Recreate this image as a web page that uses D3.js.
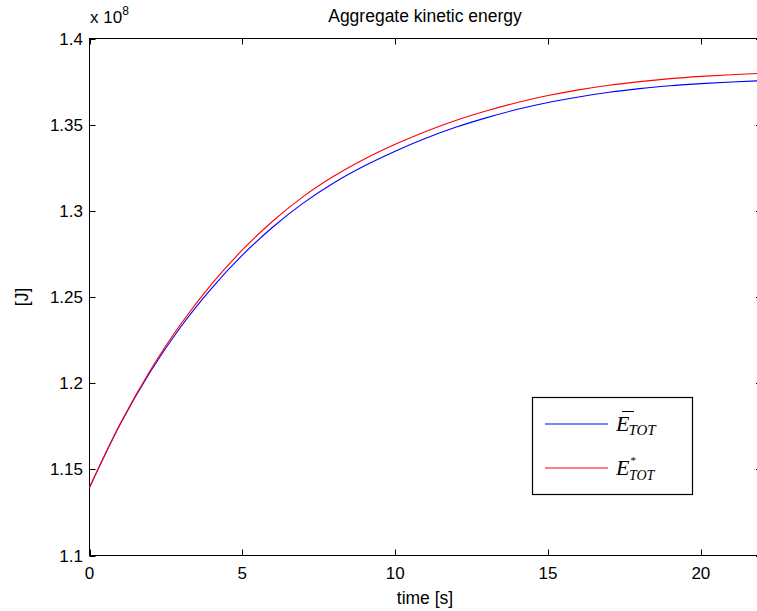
<!DOCTYPE html>
<html>
<head>
<meta charset="utf-8">
<script src="https://cdn.jsdelivr.net/npm/d3@7"></script>
<style>
  body { margin: 0; background: #fff; }
  svg { display: block; overflow: hidden; }
  text { font-family: "Liberation Sans", Arial, sans-serif; fill: #000; }
  text.math { font-family: "Liberation Serif", "DejaVu Serif", serif; font-style: italic; }
</style>
</head>
<body>
<div id="chart"></div>
<script>
// time samples [s]
const time = [0, 1, 2, 3, 4, 5, 6, 7, 8, 9, 10, 11, 12, 13, 14, 15, 16, 17, 18, 19, 20, 21, 22];
// E* TOT (red), in units of 1e8 J
const eStar = [1.1395, 1.1763, 1.2078, 1.2346, 1.2576, 1.2773, 1.2941, 1.3084, 1.3202, 1.3301, 1.3386,
  1.3461, 1.3526, 1.3581, 1.3629, 1.3669, 1.3702, 1.3729, 1.3750, 1.3767, 1.3780, 1.3790, 1.3798];
// E bar TOT (blue)
const eBar = [1.1395, 1.1760, 1.2069, 1.2330, 1.2552, 1.2743, 1.2906, 1.3046, 1.3163, 1.3261, 1.3346,
  1.3421, 1.3486, 1.3541, 1.3589, 1.3629, 1.3661, 1.3688, 1.3709, 1.3726, 1.3738, 1.3748, 1.3755];
const xTicks = [0, 5, 10, 15, 20];
const yTicks = [1.1, 1.15, 1.2, 1.25, 1.3, 1.35, 1.4];

const W = 757, H = 611;
const margin = {left: 89.5, top: 38.5, right: 762, bottom: 555.5};

const svg = d3.select("#chart").append("svg")
  .attr("width", W).attr("height", H);

const x = d3.scaleLinear().domain([0, 22]).range([margin.left, margin.right]);
const y = d3.scaleLinear().domain([1.1, 1.4]).range([margin.bottom, margin.top]);

const tickLen = 6;

// axis box
svg.append("rect")
  .attr("x", margin.left).attr("y", margin.top)
  .attr("width", margin.right - margin.left).attr("height", margin.bottom - margin.top)
  .attr("fill", "none").attr("stroke", "#000").attr("stroke-width", 1);

// inward ticks on all four sides
const ticks = svg.append("g").attr("stroke", "#000").attr("stroke-width", 1);
xTicks.forEach(t => {
  const px = Math.round(x(t)) + 0.5;
  ticks.append("line").attr("x1", px).attr("x2", px).attr("y1", margin.bottom).attr("y2", margin.bottom - tickLen);
  ticks.append("line").attr("x1", px).attr("x2", px).attr("y1", margin.top).attr("y2", margin.top + tickLen);
});
yTicks.forEach(t => {
  const py = Math.round(y(t)) + 0.5;
  ticks.append("line").attr("x1", margin.left).attr("x2", margin.left + tickLen).attr("y1", py).attr("y2", py);
  ticks.append("line").attr("x1", margin.right).attr("x2", margin.right - tickLen).attr("y1", py).attr("y2", py);
});

// tick labels
svg.append("g").selectAll("text").data(xTicks).join("text")
  .attr("x", d => x(d)).attr("y", 579)
  .attr("text-anchor", "middle").attr("font-size", 17)
  .text(d => d);
svg.append("g").selectAll("text").data(yTicks).join("text")
  .attr("x", 83).attr("y", d => y(d) + 6)
  .attr("text-anchor", "end").attr("font-size", 17)
  .text(d => d3.format("")(d));

// exponent
const ex = svg.append("text").attr("x", 90).attr("y", 23).attr("font-size", 17);
ex.append("tspan").text("x 10");
ex.append("tspan").attr("dy", -8).attr("font-size", 12).text("8");

// title and axis labels
svg.append("text").attr("x", 425).attr("y", 22).attr("text-anchor", "middle")
  .attr("font-size", 17.5).text("Aggregate kinetic energy");
svg.append("text").attr("x", 425).attr("y", 604).attr("text-anchor", "middle")
  .attr("font-size", 17.5).text("time [s]");
svg.append("text").attr("transform", "translate(28,297) rotate(-90)")
  .attr("text-anchor", "middle").attr("font-size", 17.5).text("[J]");

// curves
const line = (vals) => d3.line()
  .x((d, i) => x(time[i]))
  .y(d => y(d))
  .curve(d3.curveMonotoneX)(vals);

const plot = svg.append("g");
plot.append("path").attr("d", line(eBar))
  .attr("fill", "none").attr("stroke", "#0000ff").attr("stroke-width", 1.1);
plot.append("path").attr("d", line(eStar))
  .attr("fill", "none").attr("stroke", "#ff0000").attr("stroke-width", 1.1);

// legend
const lg = svg.append("g");
lg.append("rect").attr("x", 532.5).attr("y", 397.5).attr("width", 160).attr("height", 97)
  .attr("fill", "#fff").attr("stroke", "#000").attr("stroke-width", 1.2);
const items = [
  {color: "#0000ff", bar: true, sup: ""},
  {color: "#ff0000", bar: false, sup: "*"}
];
items.forEach((it, i) => {
  const ly = 424 + i * 44;
  lg.append("line").attr("x1", 545).attr("x2", 608).attr("y1", ly).attr("y2", ly)
    .attr("stroke", it.color).attr("stroke-width", 1.1);
  const t = lg.append("text").attr("class", "math").attr("x", 616).attr("y", ly + 7)
    .attr("font-size", 22);
  t.append("tspan").text("E");
  if (it.sup) {
    t.append("tspan").attr("dy", -11).attr("dx", 1).attr("font-size", 11)
      .style("font-style", "normal").text(it.sup);
    t.append("tspan").attr("dy", 16).attr("dx", -7).attr("font-size", 14).text("TOT");
  } else {
    t.append("tspan").attr("dy", 4).attr("dx", -1).attr("font-size", 15).text("TOT");
  }
  if (it.bar) {
    lg.append("line").attr("x1", 622).attr("x2", 634).attr("y1", ly - 12.5).attr("y2", ly - 12.5)
      .attr("stroke", "#000").attr("stroke-width", 1);
  }
});
</script>
</body>
</html>
